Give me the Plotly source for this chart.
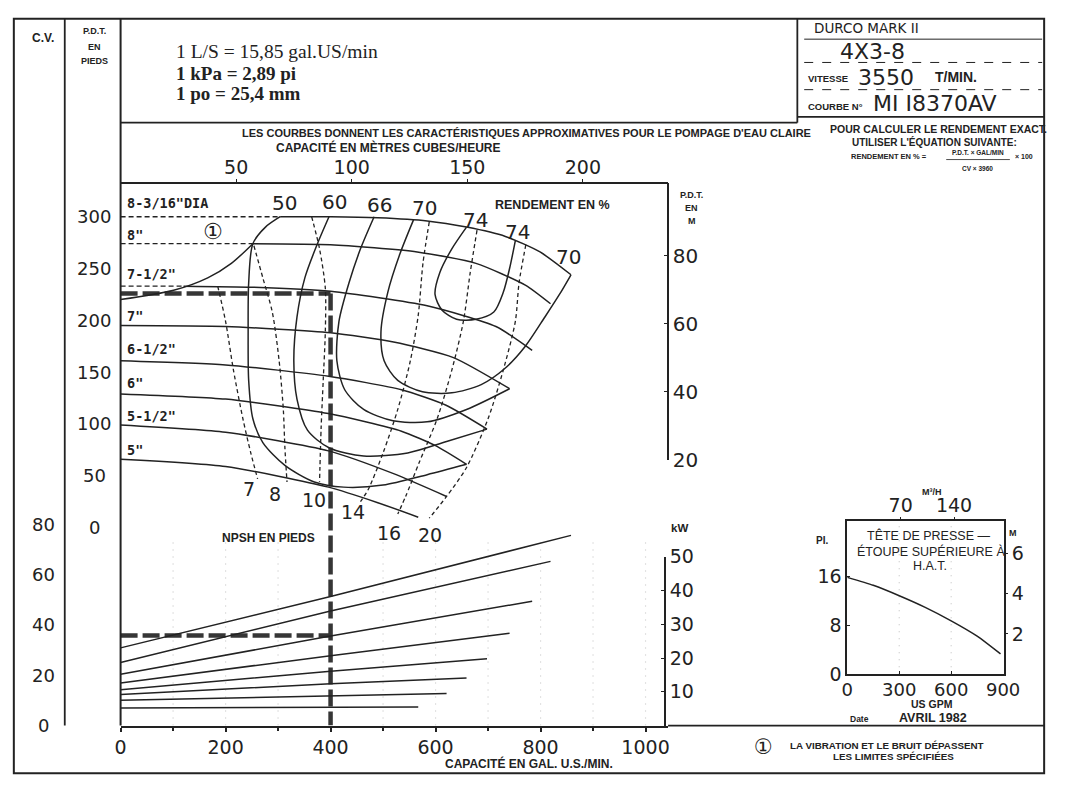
import plotly.graph_objects as go

# ---------------- DATA ----------------
# Head-capacity curves per impeller diameter (US GPM, feet)
HEAD_8_316_GPM = [304, 400, 490, 584, 659, 733, 799, 858]
HEAD_8_316_FT = [300, 300, 299, 296, 290, 281, 266, 244]
HEAD_8_GPM = [252, 400, 565, 677, 771, 819]
HEAD_8_FT = [274, 273, 266, 255, 234, 216]
HEAD_7_12_GPM = [120, 250, 400, 584, 715, 784]
HEAD_7_12_FT = [233, 232, 228, 214, 194, 171]
HEAD_7_GPM = [0, 200, 400, 520, 634, 741]
HEAD_7_FT = [195, 194, 188, 179, 164, 134]
HEAD_6_12_GPM = [0, 200, 396, 535, 620, 698]
HEAD_6_12_FT = [161, 157, 146, 133, 118, 95]
HEAD_6_GPM = [0, 200, 396, 535, 600, 659]
HEAD_6_FT = [129, 124, 110, 93, 79, 61]
HEAD_5_12_GPM = [0, 200, 396, 520, 621]
HEAD_5_12_FT = [99, 92, 74, 52, 30]
HEAD_5_GPM = [0, 200, 396, 490, 567]
HEAD_5_FT = [66, 59, 39, 24, 10]
DIAMETER_LABELS = ['8-3/16"DIA', '8"', '7-1/2"', '7"', '6-1/2"', '6"', '5-1/2"', '5"']

# Iso-efficiency curves (GPM, ft)
EFF50_GPM = [304, 276, 252, 244, 243, 244, 252, 271, 313, 369, 425, 500, 584, 659]
EFF50_FT = [300, 290, 274, 236, 189, 142, 105, 82, 60, 44, 39, 41, 51, 61]
VIB_LIMIT_GPM = [252, 211, 166, 101, 0]
VIB_LIMIT_FT = [274, 255, 241, 229, 220]
EFF60_GPM = [397, 375, 351, 336, 330, 336, 356, 397, 463, 547, 621, 698]
EFF60_FT = [300, 274, 241, 203, 161, 124, 94, 77, 69, 72, 83, 95]
EFF66_GPM = [483, 457, 435, 416, 412, 427, 463, 519, 584, 659, 741]
EFF66_FT = [300, 269, 236, 199, 161, 133, 114, 103, 102, 114, 134]
EFF70_GPM = [558, 532, 509, 496, 502, 528, 575, 631, 687, 733, 771, 808, 836, 858]
EFF70_FT = [297, 264, 227, 189, 161, 142, 131, 130, 138, 154, 175, 203, 225, 244]
EFF74_GPM = [659, 631, 608, 599, 612, 640, 677, 711, 729, 741, 752]
EFF74_FT = [290, 269, 246, 225, 210, 201, 201, 208, 227, 250, 277]
EFF_LABELS = ['50', '60', '66', '70', '74', '74', '70']
EFF_LABEL_GPM = [312, 407, 494, 578, 677, 757, 854]
EFF_LABEL_FT = [313, 314, 311, 308, 297, 285, 261]

# NPSH-required curves (GPM, ft)
NPSH7_GPM = [185, 200, 215, 233, 248, 261]
NPSH7_FT = [233, 199, 152, 105, 72, 47]
NPSH8_GPM = [254, 271, 289, 302, 310, 313, 317]
NPSH8_FT = [272, 241, 208, 161, 114, 77, 44]
NPSH10_GPM = [364, 379, 390, 390, 386, 382, 379]
NPSH10_FT = [300, 269, 231, 189, 142, 96, 44]
NPSH14_GPM = [588, 576, 567, 552, 528, 500, 472, 457]
NPSH14_FT = [295, 255, 205, 161, 114, 72, 37, 25]
NPSH16_GPM = [679, 666, 653, 631, 603, 569, 543, 528]
NPSH16_FT = [287, 246, 199, 152, 105, 63, 30, 13]
NPSH20_GPM = [772, 759, 752, 729, 700, 659, 621, 588]
NPSH20_FT = [273, 236, 199, 152, 105, 58, 30, 9]
NPSH_LABELS = ['7', '8', '10', '14', '16', '20']
NPSH_LABEL_GPM = [244, 295, 368, 442, 511, 589]
NPSH_LABEL_FT = [37, 32, 27, 15, -5, -7]

# Power curves (kW) at 0 GPM, 400 GPM and at curve end
POWER_KW_0 = [23.0, 18.7, 15.2, 12.6, 10.6, 9.2, 7.5, 5.2]
POWER_KW_400 = [38.2, 33.9, 26.5, 20.7, 16.1, 12.4, 8.9, 5.5]
POWER_KW_END = [56.3, 48.6, 36.8, 27.3, 19.8, 14.1, 9.5, 5.5]

# Selected operating point
OP_GPM = 400
OP_HEAD_FT = 226
OP_KW = 26.7

# Axis ticks
GPM_TICKS = [0, 200, 400, 600, 800, 1000]
GPM_GRID = [100, 200, 300, 500, 600, 700, 800, 900, 1000]
M3H_TICKS = [50, 100, 150, 200]
FT_TICKS = [300, 250, 200, 150, 100, 50, 0]
HP_TICKS = [80, 60, 40, 20, 0]
M_TICKS = [20, 40, 60, 80]
KW_TICKS = [10, 20, 30, 40, 50]

# Inset: suction head (TETE DE PRESSE)
INSET_GPM = [0, 150, 300, 450, 600, 750, 885]
INSET_FT = [15.8, 14.5, 12.8, 10.9, 8.7, 6.2, 3.3]
INSET_X_TICKS = [0, 300, 600, 900]
INSET_GRID = [300, 600]
INSET_FT_TICKS = [0, 8, 16]
INSET_M_TICKS = [2, 4, 6]
INSET_M3H_TICKS = [70, 140]

GPM_PER_M3H = 4.4029
FT_PER_M = 3.2808
KW_PER_HP = 0.7457

# ---------------- LAYOUT HELPERS ----------------
W, H = 1067, 791
def px(x): return x / W
def py(y): return 1 - y / H

INK = '#222222'
FAINT = '#c8c8c8'
NUM = 'DejaVu Sans'
LBL = 'Liberation Sans Narrow, Liberation Sans, Arial, sans-serif'
SERIF = 'Liberation Serif, Times New Roman, serif'
MONO = 'DejaVu Sans Mono, monospace'

# main plot geometry (pixel mapping)
X0, X1 = 117, 676
Y_TOP, Y_BOT = 178, 736
PX_PER_GPM = 0.536
FT0_Y, PX_PER_FT = 532, 1.067
PX_PER_KW = 3.48
GPM_MAX = (X1 - X0) / PX_PER_GPM
FT_MIN = (FT0_Y - Y_BOT) / PX_PER_FT
FT_MAX = (FT0_Y - Y_TOP) / PX_PER_FT
KW_MAX = (Y_BOT - Y_TOP) / PX_PER_KW

fig = go.Figure()

def add_line(x, y, xaxis='x', yaxis='y', dash=None, width=1.5, color=INK, shape='spline', smoothing=0.7):
    line = dict(color=color, width=width, shape=shape)
    if dash:
        line['dash'] = dash
    if shape == 'spline':
        line['smoothing'] = smoothing
    fig.add_trace(go.Scatter(x=x, y=y, xaxis=xaxis, yaxis=yaxis, mode='lines', line=line,
                             hoverinfo='skip', showlegend=False))

THIN_DASH = '5px,3px'
THICK_DASH = '17px,5px'
THICK_COL = '#363636'

# faint dotted grid (power area and inset)
for g in GPM_GRID:
    add_line([g, g], [0, 55], yaxis='y2', dash='1px,6px', width=1.2, color=FAINT, shape='linear')
for g in INSET_GRID:
    add_line([g, g], [0, 25], xaxis='x3', yaxis='y5', dash='1px,6px', width=1.2, color=FAINT, shape='linear')

# operating point markers
add_line([0, OP_GPM], [OP_HEAD_FT, OP_HEAD_FT], dash=THICK_DASH, width=4.5, color=THICK_COL, shape='linear')
add_line([OP_GPM, OP_GPM], [OP_HEAD_FT, FT_MIN], dash=THICK_DASH, width=4.5, color=THICK_COL, shape='linear')
add_line([0, OP_GPM], [OP_KW, OP_KW], yaxis='y2', dash=THICK_DASH, width=4.5, color=THICK_COL, shape='linear')

# impeller curves
heads = [(HEAD_8_316_GPM, HEAD_8_316_FT), (HEAD_8_GPM, HEAD_8_FT), (HEAD_7_12_GPM, HEAD_7_12_FT),
         (HEAD_7_GPM, HEAD_7_FT), (HEAD_6_12_GPM, HEAD_6_12_FT), (HEAD_6_GPM, HEAD_6_FT),
         (HEAD_5_12_GPM, HEAD_5_12_FT), (HEAD_5_GPM, HEAD_5_FT)]
for g, f in heads:
    if g[0] > 0:
        add_line([0, g[0]], [f[0], f[0]], dash=THIN_DASH, width=1.3, shape='linear')
    add_line(g, f, smoothing=0.6)

# efficiency curves
for g, f in [(EFF50_GPM, EFF50_FT), (VIB_LIMIT_GPM, VIB_LIMIT_FT), (EFF60_GPM, EFF60_FT),
             (EFF66_GPM, EFF66_FT), (EFF70_GPM, EFF70_FT), (EFF74_GPM, EFF74_FT)]:
    add_line(g, f, smoothing=0.8)

# NPSH curves
for g, f in [(NPSH7_GPM, NPSH7_FT), (NPSH8_GPM, NPSH8_FT), (NPSH10_GPM, NPSH10_FT),
             (NPSH14_GPM, NPSH14_FT), (NPSH16_GPM, NPSH16_FT), (NPSH20_GPM, NPSH20_FT)]:
    add_line(g, f, dash='4px,3px', width=1.3, smoothing=0.8)

# power curves
for (g, _), p0, p4, pe in zip(heads, POWER_KW_0, POWER_KW_400, POWER_KW_END):
    add_line([0, OP_GPM, g[-1]], [p0, p4, pe], yaxis='y2', shape='linear', width=1.5)

# inset curve
add_line(INSET_GPM, INSET_FT, xaxis='x3', yaxis='y5', smoothing=0.6)

# dummy traces so secondary axes are drawn
for xa, ya, yv in [('x2', 'y', 0), ('x', 'y3', 20), ('x', 'y4', 0), ('x3', 'y6', 0), ('x4', 'y5', 0)]:
    fig.add_trace(go.Scatter(x=[0], y=[yv], xaxis=xa, yaxis=ya, mode='markers',
                             marker=dict(opacity=0, size=1), hoverinfo='skip', showlegend=False))

tick_num = lambda s: dict(family=NUM, size=s, color=INK)
base_ax = dict(showgrid=False, zeroline=False, linecolor=INK, tickcolor=INK)

fig.update_layout(
    width=W, height=H, margin=dict(l=0, r=0, t=0, b=0),
    paper_bgcolor='white', plot_bgcolor='rgba(0,0,0,0)', showlegend=False,
    xaxis=dict(domain=[px(X0), px(X1)], range=[0, GPM_MAX], anchor='y', showline=True, linewidth=2,
               ticks='outside', ticklen=4, tickwidth=1.5, tickvals=GPM_TICKS, tickfont=tick_num(19),
               minor=dict(dtick=100, ticks='outside', ticklen=3, tickcolor=INK), **base_ax),
    yaxis=dict(domain=[py(Y_BOT), py(Y_TOP)], range=[FT_MIN, FT_MAX], anchor='x', visible=False),
    yaxis2=dict(overlaying='y', range=[0, KW_MAX], anchor='x', visible=False),
    xaxis2=dict(overlaying='x', side='top', anchor='y', range=[0, GPM_MAX / GPM_PER_M3H], showline=True,
                linewidth=1.6, ticks='outside', ticklen=3, tickvals=M3H_TICKS, tickfont=tick_num(19),
                ticklabelstandoff=-3, **base_ax),
    yaxis3=dict(domain=[py(462), py(177)], range=[20, 20 + (462 - 177) / (PX_PER_FT * FT_PER_M)],
                anchor='free', position=px(676), side='right', showline=True, linewidth=1.6,
                ticks='inside', ticklen=3, tickvals=M_TICKS, tickfont=tick_num(20), **base_ax),
    yaxis4=dict(domain=[py(Y_BOT), py(562)], range=[0, 50], anchor='free', position=px(673), side='right',
                showline=True, linewidth=1.6, ticks='inside', ticklen=3, tickvals=KW_TICKS,
                tickfont=tick_num(19), **base_ax),
    xaxis3=dict(domain=[px(859), px(1019)], range=[0, 905], anchor='y5', showline=True, mirror=True,
                linewidth=1.6, ticks='inside', ticklen=3, tickvals=INSET_X_TICKS, tickfont=tick_num(18),
                ticklabelstandoff=-2, **base_ax),
    yaxis5=dict(domain=[py(683), py(525)], range=[0, 25.04], anchor='x3', showline=True, mirror=True,
                linewidth=1.6, ticks='inside', ticklen=3, tickvals=INSET_FT_TICKS, tickfont=tick_num(19), **base_ax),
    yaxis6=dict(overlaying='y5', anchor='x3', side='right', range=[0, 25.04 / FT_PER_M], ticks='outside',
                ticklen=3, tickvals=INSET_M_TICKS, tickfont=tick_num(19), **base_ax),
    xaxis4=dict(overlaying='x3', anchor='y5', side='top', range=[0, 905 / GPM_PER_M3H], ticks='outside',
                ticklen=3, tickvals=INSET_M3H_TICKS, tickfont=tick_num(19), ticklabelstandoff=-3, **base_ax),
)

# ---------------- FRAME ----------------
def seg(x0, y0, x1, y1, w=1.6, dash=None):
    ln = dict(color=INK, width=w)
    if dash:
        ln['dash'] = dash
    fig.add_shape(type='line', xref='paper', yref='paper', x0=px(x0), y0=py(y0), x1=px(x1), y1=py(y1), line=ln)

fig.add_shape(type='rect', xref='paper', yref='paper', x0=px(8), y0=py(785), x1=px(1060), y1=py(8),
              line=dict(color=INK, width=2))
seg(60, 8, 60, 736, 1.8)
seg(117, 8, 117, 736, 2)
seg(117, 115, 808, 115, 1.8)
seg(808, 8, 808, 115, 1.8)
seg(808, 109, 1060, 109, 1.8)
seg(676, 736, 1060, 736, 1.8)
seg(815, 29, 1058, 29, 1)
seg(815, 53, 1058, 53, 1, 'dash')
seg(815, 81, 1058, 81, 1, 'dash')
seg(960, 153, 1025, 153, 0.8)

# ---------------- TEXT ----------------
def note(text, x, y, size, family=LBL, weight='normal', xanchor='center', xref='paper', yref='paper'):
    fig.add_annotation(text=text, x=px(x) if xref == 'paper' else x, y=py(y) if yref == 'paper' else y,
                       xref=xref, yref=yref, showarrow=False, xanchor=xanchor, yanchor='middle',
                       font=dict(family=family, size=size, color=INK, weight=weight))

note('C.V.', 38, 28, 12, weight='bold')
note('P.D.T.', 90, 21, 9, weight='bold')
note('EN', 90, 37, 9, weight='bold')
note('PIEDS', 90, 52, 9, weight='bold')
note('1 L/S = 15,85 gal.US/min', 172, 42, 19.5, family=SERIF, xanchor='left')
note('1 kPa = 2,89 pi', 172, 64, 19, family=SERIF, weight='bold', xanchor='left')
note('1 po = 25,4 mm', 172, 85, 19, family=SERIF, weight='bold', xanchor='left')

note('DURCO MARK II', 823, 17, 13.5, family=NUM, xanchor='left')
note('4X3-8', 850, 42, 22, family=NUM, xanchor='left')
note('VITESSE', 817, 70, 9.5, weight='bold', xanchor='left')
note('3550', 868, 68, 22, family=NUM, xanchor='left')
note('T/MIN.', 947, 68, 14, weight='bold', xanchor='left')
note('COURBE N°', 817, 98, 9.5, weight='bold', xanchor='left')
note('MI I8370AV', 883, 95, 22, family=NUM, xanchor='left')
note('POUR CALCULER LE RENDEMENT EXACT.', 952, 122, 10.5, weight='bold')
note("UTILISER L'ÉQUATION SUIVANTE:", 948, 135, 10, weight='bold')
note('RENDEMENT EN % =', 942, 150, 7.5, weight='bold', xanchor='right')
note('P.D.T. × GAL/MIN', 992, 146, 6.5, weight='bold')
note('CV × 3960', 992, 162, 6.5, weight='bold')
note('× 100', 1028, 150, 7, weight='bold', xanchor='left')

note("LES COURBES DONNENT LES CARACTÉRISTIQUES APPROXIMATIVES POUR LE POMPAGE D'EAU CLAIRE", 531, 126, 11, weight='bold')
note('CAPACITÉ EN MÈTRES CUBES/HEURE', 390, 141, 12, weight='bold')
note('RENDEMENT EN %', 558, 200, 12.5, weight='bold')
note('P.D.T.', 700, 190, 9, weight='bold')
note('EN', 700, 203, 9, weight='bold')
note('M', 700, 216, 9, weight='bold')
note('kW', 688, 532, 11.5, weight='bold')
note('NPSH EN PIEDS', 268, 543, 12, weight='bold')
note('CAPACITÉ EN GAL. U.S./MIN.', 534, 775, 12, weight='bold')
note('①', 211, 227, 22, family=NUM)

for lab, yy in zip(DIAMETER_LABELS, [198, 231, 271, 314, 348, 383, 417, 452]):
    note(lab, 122, yy, 13.5, family=MONO, weight='bold', xanchor='left')

for lab, g, f in zip(EFF_LABELS, EFF_LABEL_GPM, EFF_LABEL_FT):
    fig.add_annotation(text=lab, x=g, y=f, xref='x', yref='y', showarrow=False, xanchor='center',
                       font=tick_num(20))
for lab, g, f in zip(NPSH_LABELS, NPSH_LABEL_GPM, NPSH_LABEL_FT):
    fig.add_annotation(text=lab, x=g, y=f, xref='x', yref='y', showarrow=False, xanchor='center',
                       font=tick_num(19))

for v in FT_TICKS:
    fig.add_annotation(text=str(v), x=px(90), y=v, xref='paper', yref='y', showarrow=False,
                       xanchor='center', font=tick_num(18))
for v in HP_TICKS:
    fig.add_annotation(text=str(v), x=px(38), y=v * KW_PER_HP, xref='paper', yref='y2', showarrow=False,
                       xanchor='center', font=tick_num(18))

# inset texts
note('M³/H', 945, 495, 9, weight='bold')
note('PI.', 833, 545, 10, weight='bold')
note('M', 1028, 538, 9, weight='bold')
note('TÊTE DE PRESSE —', 942, 540, 12.5)
note('ÉTOUPE SUPÉRIEURE À', 944, 557, 12.5)
note('H.A.T.', 943, 572, 12.5)
note('US GPM', 945, 714, 10.5, weight='bold')
note('Date', 871, 729, 8.5, weight='bold')
note('AVRIL 1982', 947, 728, 12.5, weight='bold')

# footer
note('①', 773, 758, 21, family=NUM)
note('LA VIBRATION ET LE BRUIT DÉPASSENT', 900, 757, 9.8, weight='bold')
note('LES LIMITES SPÉCIFIÉES', 906, 768, 9.8, weight='bold')

fig.write_html('out.html')
